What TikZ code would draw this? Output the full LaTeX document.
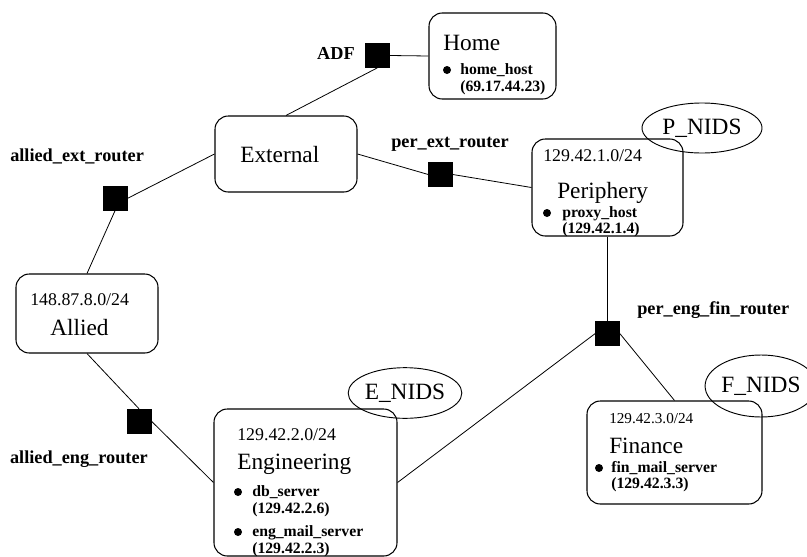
\documentclass[tikz,border=0pt]{standalone}
\usepackage{fontspec}
\setmainfont{Liberation Serif}
\usetikzlibrary{fit,shapes.geometric}
\begin{document}
\begin{tikzpicture}[x=0.75pt,y=-0.75pt,
  net/.style={draw, rounded corners=10pt, line width=0.8pt, inner sep=0pt},
  rtr/.style={draw, fill=black, minimum size=18pt, inner sep=0pt},
  nids/.style={draw, ellipse, line width=0.7pt, inner sep=0pt, font=\fontsize{17.5}{20}\selectfont},
  link/.style={line width=0.6pt},
  big/.style={font=\fontsize{17.5}{20}\selectfont, inner sep=0pt, anchor=base west},
  ip/.style={font=\fontsize{13.4}{16}\selectfont, inner sep=0pt, anchor=base west},
  smallip/.style={font=\fontsize{11.4}{14}\selectfont, inner sep=0pt, anchor=base west},
  lbl/.style={font=\bfseries\fontsize{13.7}{16}\selectfont, inner sep=0pt},
  host/.style={font=\bfseries\fontsize{11.8}{14}\selectfont, inner sep=0pt, anchor=base west},
  dot/.style={circle, fill=black, minimum size=6pt, inner sep=0pt}]
\useasboundingbox (0,0) rectangle (807,557);

% Home
\node[net, fit={(429,13) (556,99)}] (home) {};
\node[big] (homet) at (443,50) {Home};
\node[dot] (hd) at (447,70) {};
\node[host] (hh) at (460,74) {home\_host};
\node[host] (hip) at (460,91) {(69.17.44.23)};

% ADF
\node[rtr] (adf) at (377.5,55.5) {};
\node[lbl, anchor=base east] (adfl) at (355,59) {ADF};

% External
\node[net, fit={(215,116) (357,192)}] (ext) {};
\node[big] (extt) at (240,162) {External};

% allied_ext_router
\node[rtr] (aer) at (115,198.5) {};
\node[lbl, anchor=base west] (aerl) at (10,161) {allied\_ext\_router};

% Allied
\node[net, fit={(16,274) (158,353)}] (allied) {};
\node[ip] (alliedip) at (30,305) {148.87.8.0/24};
\node[big] (alliedt) at (50,335) {Allied};

% allied_eng_router
\node[rtr] (aeg) at (139,421) {};
\node[lbl, anchor=base east] (aegl) at (148,463) {allied\_eng\_router};

% Engineering
\node[net, fit={(214,409) (397,556)}] (eng) {};
\node[ip] (engip) at (237,440) {129.42.2.0/24};
\node[big] (engt) at (237,469) {Engineering};
\node[dot] (ed1) at (238,492) {};
\node[host] (eh1) at (252,496) {db\_server};
\node[host] (eip1) at (252,513) {(129.42.2.6)};
\node[dot] (ed2) at (238,532) {};
\node[host] (eh2) at (252,536) {eng\_mail\_server};
\node[host] (eip2) at (252,553) {(129.42.2.3)};
\node[nids] (enids) at (405,393) [minimum width=82.5pt, minimum height=38pt] {E\_NIDS};

% per_ext_router
\node[rtr] (pe) at (440.5,174.5) {};
\node[lbl, anchor=base west] (pel) at (391,147) {per\_ext\_router};

% Periphery
\node[net, fit={(532,139) (683,236)}] (per) {};
\node[ip] (perip) at (543,161) {129.42.1.0/24};
\node[big] (pert) at (557,198) {Periphery};
\node[dot] (pd) at (547,213) {};
\node[host] (ph) at (562,217) {proxy\_host};
\node[host] (pip) at (562,233) {(129.42.1.4)};
\node[nids] (pnids) at (702,128) [minimum width=90pt, minimum height=37.5pt] {P\_NIDS};

% per_eng_fin_router
\node[rtr] (pef) at (607.5,333.5) {};
\node[lbl, anchor=base west] (pefl) at (637,314) {per\_eng\_fin\_router};

% Finance
\node[net, fit={(587,401) (762,504)}] (fin) {};
\node[smallip] (finip) at (609,423) {129.42.3.0/24};
\node[big] (fint) at (609,453) {Finance};
\node[dot] (fd) at (599,468) {};
\node[host] (fh) at (611,472) {fin\_mail\_server};
\node[host] (fip) at (611,488) {(129.42.3.3)};
\node[nids] (fnids) at (761,386) [minimum width=66pt, minimum height=46.5pt] {F\_NIDS};

% connectors
\draw[link] (adf.east) -- (home.west);
\draw[link] (adf.south) -- (ext.north);
\draw[link] (aer.east) -- (ext.west);
\draw[link] (aer.south) -- (allied.north);
\draw[link] (allied.south) -- (aeg.north);
\draw[link] (aeg.east) -- (eng.west);
\draw[link] (ext.east) -- (pe.west);
\draw[link] (pe.east) -- (per.west);
\draw[link] (per.south) -- (pef.north);
\draw[link] (pef.west) -- (eng.east);
\draw[link] (pef.east) -- (fin.north);
\end{tikzpicture}
\end{document}
